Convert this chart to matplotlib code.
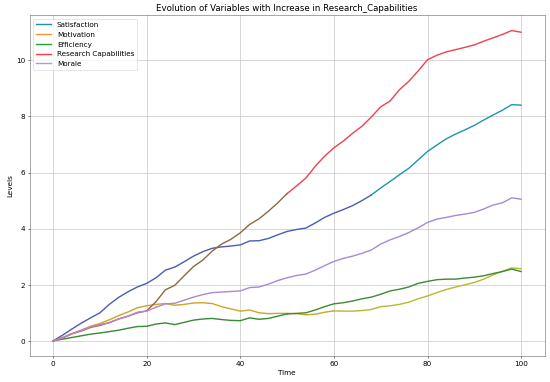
import numpy as np
import matplotlib.pyplot as plt
from matplotlib.lines import Line2D

# time steps (every 2 units)
time = np.arange(0, 101, 2)

satisfaction = [0, 0.2, 0.42, 0.63, 0.82, 1.0, 1.3, 1.55, 1.75, 1.92, 2.05,
                2.25, 2.52, 2.63, 2.82, 3.02, 3.18, 3.3, 3.35, 3.38, 3.42,
                3.56, 3.57, 3.65, 3.78, 3.9, 3.97, 4.02, 4.2, 4.4, 4.55,
                4.68, 4.82, 5.0, 5.2, 5.45, 5.68, 5.92, 6.15, 6.45, 6.75,
                6.98, 7.2, 7.37, 7.52, 7.68, 7.87, 8.05, 8.22, 8.42, 8.4]
motivation = [0, 0.12, 0.26, 0.38, 0.52, 0.62, 0.75, 0.9, 1.03, 1.18, 1.25,
              1.3, 1.33, 1.27, 1.3, 1.35, 1.36, 1.33, 1.22, 1.14, 1.06,
              1.1, 1.0, 0.97, 0.98, 0.98, 0.97, 0.93, 0.95, 1.02, 1.07,
              1.06, 1.06, 1.08, 1.12, 1.22, 1.25, 1.3, 1.38, 1.5, 1.6,
              1.72, 1.83, 1.92, 2.0, 2.08, 2.2, 2.35, 2.48, 2.6, 2.57]
efficiency = [0, 0.06, 0.12, 0.18, 0.24, 0.28, 0.33, 0.38, 0.45, 0.51, 0.52,
              0.6, 0.64, 0.58, 0.66, 0.74, 0.78, 0.8, 0.76, 0.73, 0.72,
              0.82, 0.77, 0.8, 0.88, 0.96, 0.98, 1.0, 1.1, 1.22, 1.32,
              1.36, 1.42, 1.5, 1.56, 1.66, 1.78, 1.84, 1.92, 2.05, 2.12,
              2.18, 2.2, 2.2, 2.24, 2.27, 2.32, 2.4, 2.47, 2.56, 2.47]
research = [0, 0.1, 0.25, 0.35, 0.48, 0.55, 0.65, 0.78, 0.88, 1.0, 1.07,
            1.4, 1.82, 1.98, 2.32, 2.65, 2.88, 3.2, 3.45, 3.62, 3.85,
            4.15, 4.35, 4.62, 4.92, 5.25, 5.52, 5.8, 6.22, 6.58, 6.88,
            7.12, 7.4, 7.65, 7.98, 8.34, 8.55, 8.95, 9.25, 9.62, 10.02,
            10.18, 10.3, 10.38, 10.46, 10.55, 10.68, 10.8, 10.92, 11.06, 11.0]
morale = [0, 0.1, 0.25, 0.37, 0.5, 0.58, 0.65, 0.78, 0.88, 1.02, 1.06,
          1.2, 1.32, 1.34, 1.45, 1.56, 1.65, 1.72, 1.74, 1.76, 1.78,
          1.9, 1.92, 2.02, 2.15, 2.25, 2.33, 2.38, 2.52, 2.68, 2.83,
          2.94, 3.02, 3.12, 3.24, 3.45, 3.6, 3.72, 3.86, 4.03, 4.22,
          4.34, 4.4, 4.47, 4.52, 4.58, 4.7, 4.84, 4.92, 5.1, 5.05]

labels = ['Satisfaction', 'Motivation', 'Efficiency', 'Research Capabilities', 'Morale']
series = [satisfaction, motivation, efficiency, research, morale]
legend_colors = ['#1f8fb4', '#f39a35', '#22a83a', '#ff3a4c', '#c58fd2']
# the lines in the picture change tint along their length
early_colors = ['#4d5cb3', '#c9a62a', '#3a8a34', '#8c6c3c', '#d07ac8']
late_colors = ['#1f93b5', '#b9b832', '#3f8a36', '#f0414f', '#a78ad6']
switch_at = [68, 60, 50, 50, 22]

fig = plt.figure(figsize=(12, 8.34), dpi=550 / 12)
ax = fig.add_axes([0.054, 0.067, 0.936, 0.893])

for vals, c0, c1, ts in zip(series, early_colors, late_colors, switch_at):
    vals = np.array(vals)
    m0 = time <= ts
    m1 = time >= ts
    ax.plot(time[m0], vals[m0], color=c0, lw=2.2)
    ax.plot(time[m1], vals[m1], color=c1, lw=2.2)

handles = [Line2D([0], [0], color=c, lw=2.2) for c in legend_colors]
ax.legend(handles, labels, loc='upper left', fontsize=11.5)

ax.set_title('Evolution of Variables with Increase in Research_Capabilities', fontsize=13.5)
ax.set_xlabel('Time', fontsize=11.5)
ax.set_ylabel('Levels', fontsize=11.5)
ax.tick_params(labelsize=11.5)
ax.grid(True, color='#cccccc', lw=1.2)
ax.set_xticks([0, 20, 40, 60, 80, 100])
ax.set_yticks([0, 2, 4, 6, 8, 10])
for s in ax.spines.values():
    s.set_color('#555555')

fig.savefig('out.png', dpi=550 / 12)
